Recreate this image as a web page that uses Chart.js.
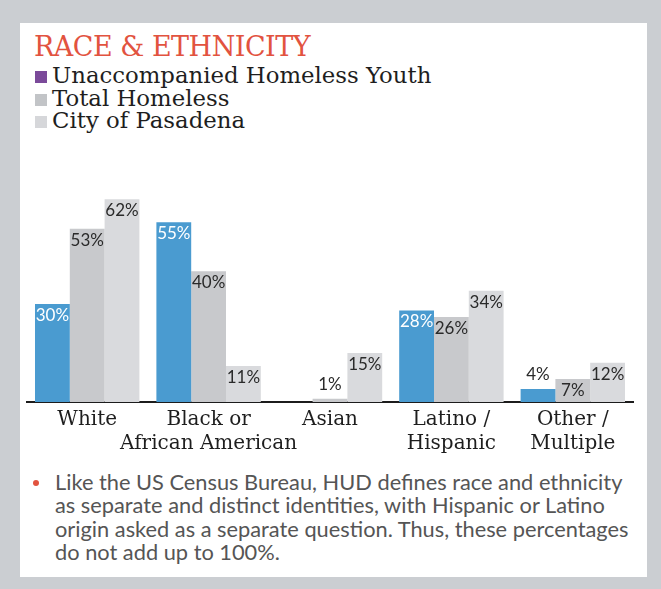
<!DOCTYPE html>
<html>
<head>
<meta charset="utf-8">
<script src="https://cdn.jsdelivr.net/npm/chart.js@4"></script>
<style>
  html, body { margin: 0; padding: 0; }
  body { width: 661px; height: 589px; background: #cbced2; position: relative; overflow: hidden; }
  #panel { position: absolute; left: 20px; top: 23px; width: 627px; height: 554px; background: #fff; }
  #title { position: absolute; left: 14px; top: 8px; font: 27px "DejaVu Serif", serif; color: #e2533f; letter-spacing: -0.5px; }
  #legend { position: absolute; left: 15px; top: 41px; font: 22.8px "DejaVu Serif", serif; color: #1e1e1e; }
  #legend div { height: 22.5px; line-height: 22.5px; white-space: nowrap; }
  #legend span { display: inline-block; width: 12px; height: 12px; margin-right: 5px; vertical-align: 0px; }
  #chartBox { position: absolute; left: 0; top: 157px; width: 627px; height: 280px; }
  #note { position: absolute; left: 35px; top: 447px; width: 600px; font: 21.8px Lato, sans-serif; color: #555; line-height: 23.4px; white-space: nowrap; }
  #note i { position: absolute; left: -22px; top: 10px; width: 6px; height: 6px; border-radius: 3px; background: #e2533f; }
</style>
</head>
<body>
<div id="panel">
  <div id="title">RACE &amp; ETHNICITY</div>
  <div id="legend"></div>
  <div id="chartBox"><canvas id="chart"></canvas></div>
  <div id="note"><i></i>Like the US Census Bureau, HUD defines race and ethnicity<br>as separate and distinct identities, with Hispanic or Latino<br>origin asked as a separate question. Thus, these percentages<br>do not add up to 100%.</div>
</div>
<script>
const categories = [['White'], ['Black or', 'African American'], ['Asian'], ['Latino /', 'Hispanic'], ['Other /', 'Multiple']];
const youth = [30, 55, null, 28, 4];
const totalHomeless = [53, 40, 1, 26, 7];
const pasadena = [62, 11, 15, 34, 12];

// print the value on top of each bar, inside when it fits
const barLabels = {
  id: 'barLabels',
  afterDatasetsDraw(chart) {
    const ctx = chart.ctx;
    ctx.save();
    ctx.font = '17px Lato, sans-serif';
    ctx.textAlign = 'center';
    ctx.textBaseline = 'alphabetic';
    chart.data.datasets.forEach((ds, i) => {
      chart.getDatasetMeta(i).data.forEach((bar, j) => {
        const v = ds.data[j];
        if (v == null) return;
        const h = bar.base - bar.y;
        if (h >= 20) {
          ctx.fillStyle = ds.labelColor;
          ctx.fillText(v + '%', bar.x, bar.y + 17);
        } else {
          ctx.fillStyle = '#2a2a2a';
          ctx.fillText(v + '%', bar.x, bar.y - 9);
        }
      });
    });
    ctx.restore();
  }
};

const ctx = document.getElementById('chart').getContext('2d');
const chart = new Chart(ctx, {
  type: 'bar',
  data: {
    labels: categories,
    datasets: [
      { label: 'Unaccompanied Homeless Youth', data: youth, backgroundColor: '#4a9bd0', legendColor: '#7b4a9a', labelColor: '#ffffff' },
      { label: 'Total Homeless', data: totalHomeless, backgroundColor: '#c8c9cc', legendColor: '#c2c4c7', labelColor: '#2a2a2a' },
      { label: 'City of Pasadena', data: pasadena, backgroundColor: '#d9dadd', legendColor: '#d6d7da', labelColor: '#2a2a2a' }
    ]
  },
  options: {
    responsive: true,
    maintainAspectRatio: false,
    animation: false,
    layout: { padding: { left: 6.5, right: 13.5, top: 9.5, bottom: 0 } },
    datasets: { bar: { barPercentage: 1, categoryPercentage: 0.86 } },
    plugins: { legend: { display: false }, tooltip: { enabled: false } },
    scales: {
      x: {
        grid: { display: false, drawTicks: false },
        border: { display: true, color: '#1c1c1c', width: 2 },
        ticks: { color: '#1e1e1e', font: { family: 'DejaVu Serif', size: 20, lineHeight: 1.2 }, padding: 6, maxRotation: 0, autoSkip: false },
        afterFit(scale) { scale.height = 58; }
      },
      y: { display: false, min: 0, max: 65 }
    }
  },
  plugins: [barLabels]
});

// legend stacked in rows, built from the datasets
document.getElementById('legend').innerHTML = chart.data.datasets
  .map(ds => `<div><span style="background:${ds.legendColor}"></span>${ds.label}</div>`)
  .join('');
</script>
</body>
</html>
